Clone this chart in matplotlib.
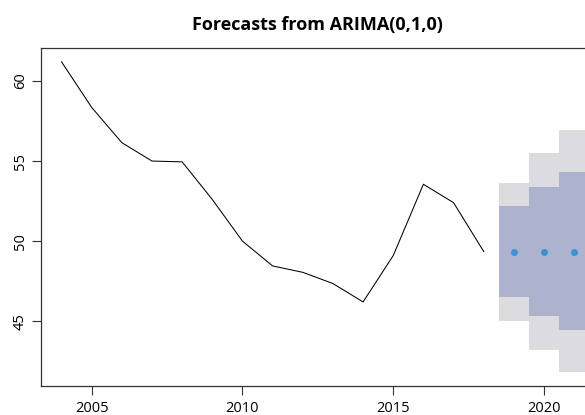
import numpy as np
import matplotlib
matplotlib.use("Agg")
import matplotlib.pyplot as plt

plt.rcParams['font.family'] = ['Open Sans', 'DejaVu Sans']

years = list(range(2004, 2019))
values = [61.2, 58.35, 56.15, 55.0, 54.95, 52.6, 50.0, 48.45, 48.05, 47.35,
          46.2, 49.1, 53.55, 52.4, 49.35]

# ARIMA(0,1,0) forecast: point + 80% / 95% intervals
fc_years = [2019, 2020, 2021]
fc_mean = [49.33, 49.33, 49.33]
lo80 = [46.5, 45.3, 44.45]
hi80 = [52.2, 53.4, 54.3]
lo95 = [45.0, 43.2, 41.85]
hi95 = [53.65, 55.5, 56.95]

xticks = [2005, 2010, 2015, 2020]
yticks = [45, 50, 55, 60]

fig = plt.figure(figsize=(5.85, 4.15), dpi=100)
# right edge of the plot box falls just outside the picture (cropped)
ax = fig.add_axes([41 / 585, 1 - 386 / 415, (594.7 - 41) / 585, (386 - 48.5) / 415])

lo95_a, hi95_a = np.array(lo95), np.array(hi95)
lo80_a, hi80_a = np.array(lo80), np.array(hi80)
ax.bar(fc_years, hi95_a - lo95_a, bottom=lo95_a, width=1.0, color='#dbdbe0', linewidth=0)
ax.bar(fc_years, hi80_a - lo80_a, bottom=lo80_a, width=1.0, color='#adb3ce', linewidth=0)

ax.plot(years, values, color='black', lw=0.75)
ax.plot(fc_years, fc_mean, 'o', color='#3a93d8', ms=5, mec='none')

ax.set_xlim(2003.32, 2021.68)
ax.set_ylim(40.95, 62.03)
ax.set_xticks(xticks)
ax.set_yticks(yticks)
ax.set_yticklabels([str(v) for v in yticks], rotation=90, va='center')
ax.tick_params(axis='both', length=6.5, width=0.8, labelsize=10.5, color='#333333')
ax.tick_params(axis='x', pad=4)
ax.tick_params(axis='y', pad=3)
for s in ax.spines.values():
    s.set_linewidth(0.9)
    s.set_color('#333333')

fig.text(317.5 / 585, 1 - 25 / 415, 'Forecasts from ARIMA(0,1,0)', ha='center', va='center',
         fontsize=13, fontweight='bold')

fig.savefig('out.png', dpi=100)
